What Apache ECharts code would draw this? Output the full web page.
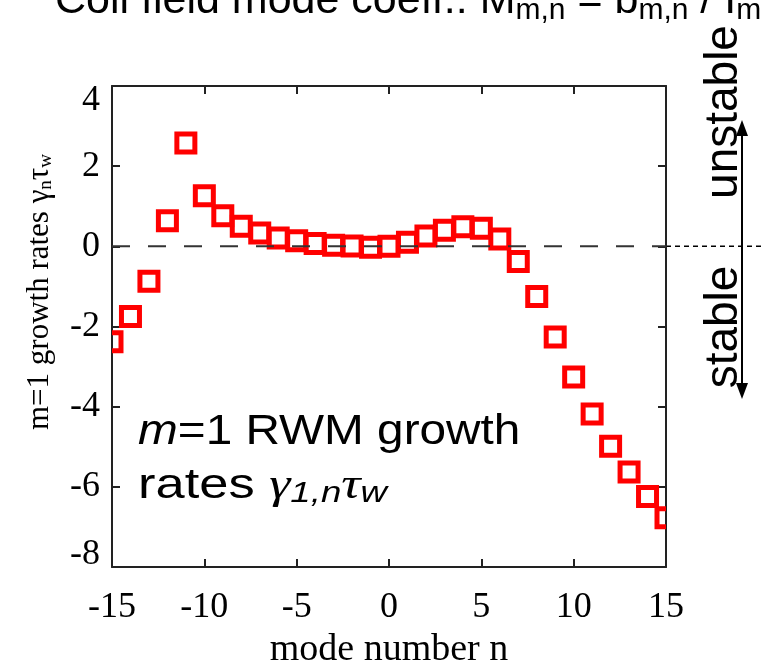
<!DOCTYPE html>
<html>
<head>
<meta charset="utf-8">
<script src="https://cdn.jsdelivr.net/npm/echarts@6/dist/echarts.min.js"></script>
<style>
  html, body { margin: 0; padding: 0; background: #fff; }
  #chart { width: 762px; height: 662px; }
</style>
</head>
<body>
<div id="chart"></div>
<script>
// toroidal mode numbers n and the m=1 RWM growth rate of each (gamma_n * tau_w)
const modeNumbers = [-15, -14, -13, -12, -11, -10, -9, -8, -7, -6, -5, -4, -3, -2, -1,
                     0, 1, 2, 3, 4, 5, 6, 7, 8, 9, 10, 11, 12, 13, 14, 15];
const growthRates = [-2.38, -1.75, -0.87, 0.64, 2.58, 1.26, 0.76, 0.50, 0.33, 0.21, 0.14, 0.07, 0.03, 0.01, -0.02,
                     0.00, 0.10, 0.26, 0.40, 0.49, 0.45, 0.18, -0.38, -1.25, -2.26, -3.26, -4.18, -4.99, -5.63, -6.24, -6.77];
const xTickValues = [-15, -10, -5, 0, 5, 10, 15];
const yTickValues = [-8, -6, -4, -2, 0, 2, 4];
const stabilityBoundary = [[-15, 0], [15, 0]];

const points = modeNumbers.map((n, i) => [n, growthRates[i]]);

const serif = '"Liberation Serif", "Times New Roman", serif';
const sans = '"Liberation Sans", Arial, sans-serif';
const frame = { color: '#222', width: 2 };

const chart = echarts.init(document.getElementById('chart'), null, { renderer: 'canvas' });

function boxAxis(extra) {
  return Object.assign({
    type: 'value',
    axisLine: { show: true, onZero: false, lineStyle: frame },
    axisTick: { show: true, inside: true, length: 8, lineStyle: frame },
    splitLine: { show: false }
  }, extra);
}

const yMin = yTickValues[0];
const yMax = yTickValues[yTickValues.length - 1];

chart.setOption({
  backgroundColor: '#fff',
  animation: false,
  grid: { left: 112, right: 96, top: 86, bottom: 95, containLabel: false, outerBoundsMode: 'none' },
  xAxis: [
    boxAxis({
      position: 'bottom',
      min: xTickValues[0], max: xTickValues[xTickValues.length - 1], interval: 5,
      axisLabel: { fontFamily: serif, fontSize: 36, color: '#000', margin: 23 },
      name: 'mode number n', nameLocation: 'middle', nameGap: 55,
      nameTextStyle: { fontFamily: serif, fontSize: 38, color: '#000', verticalAlign: 'top' }
    }),
    boxAxis({
      position: 'top',
      min: xTickValues[0], max: xTickValues[xTickValues.length - 1], interval: 5,
      axisLabel: { show: false }
    })
  ],
  yAxis: [
    boxAxis({
      position: 'left',
      min: yMin, max: yMax, interval: 2,
      axisLabel: {
        fontFamily: serif, fontSize: 36, color: '#000', margin: 12,
        // end labels are nudged inward so they stay within the frame height
        formatter: function (v) {
          if (v === yMax) return '{hi|' + v + '}';
          if (v === yMin) return '{lo|' + v + '}';
          return String(v);
        },
        rich: {
          hi: { fontFamily: serif, fontSize: 36, padding: [30, 0, 0, 0] },
          lo: { fontFamily: serif, fontSize: 36, padding: [0, 0, 24, 0] }
        }
      }
    }),
    boxAxis({
      position: 'right',
      min: yMin, max: yMax, interval: 2,
      axisLabel: { show: false }
    })
  ],
  series: [
    {
      // hollow square markers, clipped at the frame
      type: 'custom',
      clip: true,
      data: points,
      z: 2,
      renderItem: function (params, api) {
        const p = api.coord([api.value(0), api.value(1)]);
        const s = 18;
        return {
          type: 'rect',
          shape: { x: p[0] - s / 2, y: p[1] - s / 2, width: s, height: s },
          style: { fill: 'none', stroke: '#ff0000', lineWidth: 5 }
        };
      }
    },
    {
      // marginal stability line
      type: 'line',
      data: stabilityBoundary,
      symbol: 'none',
      z: 3,
      silent: true,
      lineStyle: { color: '#333', width: 2, type: [18, 18] }
    }
  ]
});

// annotations outside and inside the frame
const zeroY = chart.convertToPixel({ yAxisIndex: 0 }, 0);
const frameRight = chart.convertToPixel({ xAxisIndex: 0 }, 15);
const arrowX = 742;

chart.setOption({
  graphic: [
    {
      type: 'text', x: 55, y: 0,
      style: {
        text: '{t|Coil field mode coeff.: M}{s|m,n}{t| = b}{s|m,n}{t| / I}{s|m,n}',
        fill: '#000',
        rich: {
          t: { fontFamily: sans, fontSize: 43, lineHeight: 50 },
          s: { fontFamily: sans, fontSize: 30, lineHeight: 20, verticalAlign: 'bottom' }
        },
        verticalAlign: 'bottom',
        x: 0, y: 26
      }
    },
    {
      type: 'text', x: 40, y: 292, rotation: Math.PI / 2,
      style: {
        text: 'm=1 growth rates γ{s|n}τ{s|w}',
        fontFamily: serif, fontSize: 31, fill: '#000',
        align: 'center', verticalAlign: 'middle',
        rich: { s: { fontFamily: serif, fontSize: 19, verticalAlign: 'bottom', lineHeight: 24 } }
      }
    },
    {
      type: 'text', x: 138, y: 432, scaleX: 1.11,
      style: {
        text: '{i|m}=1 RWM growth',
        fontFamily: sans, fontSize: 43, fill: '#000',
        verticalAlign: 'middle',
        rich: { i: { fontFamily: sans, fontStyle: 'italic', fontSize: 43 } }
      }
    },
    {
      type: 'text', x: 138, y: 486, scaleX: 1.22,
      style: {
        text: 'rates {g|γ}{s|1,n}{g|τ}{s|w}',
        fontFamily: sans, fontSize: 43, fill: '#000',
        verticalAlign: 'middle',
        rich: {
          g: { fontFamily: serif, fontStyle: 'italic', fontSize: 44, lineHeight: 46 },
          s: { fontFamily: sans, fontStyle: 'italic', fontSize: 30, lineHeight: 26, verticalAlign: 'bottom' }
        }
      }
    },
    {
      type: 'line',
      shape: { x1: frameRight, y1: zeroY, x2: 762, y2: zeroY },
      style: { stroke: '#000', lineWidth: 1.5, lineDash: [5, 4] }
    },
    {
      type: 'line',
      shape: { x1: arrowX, y1: 132, x2: arrowX, y2: 388 },
      style: { stroke: '#000', lineWidth: 2 }
    },
    {
      type: 'polygon',
      shape: { points: [[arrowX, 120], [arrowX - 6, 136], [arrowX + 6, 136]] },
      style: { fill: '#000' }
    },
    {
      type: 'polygon',
      shape: { points: [[arrowX, 399], [arrowX - 6, 383], [arrowX + 6, 383]] },
      style: { fill: '#000' }
    },
    {
      type: 'text', x: 724, y: 112, rotation: Math.PI / 2,
      style: { text: 'unstable', fontFamily: sans, fontSize: 46, fill: '#000', align: 'center', verticalAlign: 'middle' }
    },
    {
      type: 'text', x: 724, y: 327, rotation: Math.PI / 2,
      style: { text: 'stable', fontFamily: sans, fontSize: 46, fill: '#000', align: 'center', verticalAlign: 'middle' }
    }
  ]
});
</script>
</body>
</html>
